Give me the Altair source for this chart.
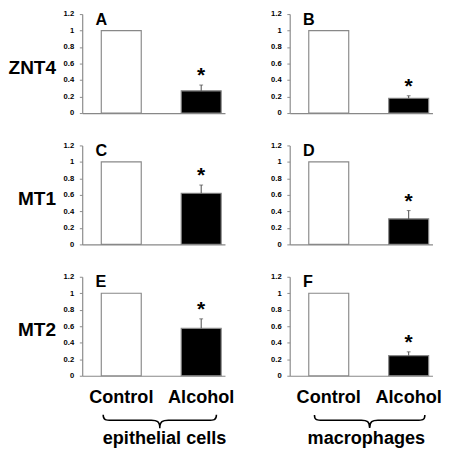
import altair as alt
import pandas as pd

groups = ["Control", "Alcohol"]
genes = ["ZNT4", "MT1", "MT2"]
cell_types = ["epithelial cells", "macrophages"]
panel_letters = [["A", "B"], ["C", "D"], ["E", "F"]]
control_means = [[1.0, 1.0], [1.0, 1.0], [1.0, 1.0]]
alcohol_means = [[0.27, 0.18], [0.62, 0.31], [0.575, 0.245]]
alcohol_sem = [[0.07, 0.03], [0.10, 0.10], [0.115, 0.045]]
y_ticks = [0, 0.2, 0.4, 0.6, 0.8, 1.0, 1.2]

FONT = "Liberation Sans"
W, H = 150, 104
GRAY = "#888888"
ERR = "#444444"
BRACE = ("M -1 -0.118 C -1 -0.02 -0.95 -0.02 -0.85 -0.02 L -0.15 -0.02 "
         "C -0.05 -0.02 0 0 0 0.118 C 0 0 0.05 -0.02 0.15 -0.02 "
         "L 0.85 -0.02 C 0.95 -0.02 1 -0.02 1 -0.118")
brace_x = [81.5, 84]
brace_w = [119, 116]
group_title_x = [86, 80]


def panel(r, c):
    df = pd.DataFrame({
        "group": groups,
        "value": [control_means[r][c], alcohol_means[r][c]],
        "err": [0.0, alcohol_sem[r][c]],
        "star": ["", "*"],
    })
    df["upper"] = df["value"] + df["err"]
    last = r == len(genes) - 1

    xa = dict(labels=last, ticks=False, domainColor=GRAY, domainWidth=1.2,
              labelFont=FONT, labelFontSize=19, labelFontWeight="bold",
              labelColor="black", labelPadding=13, labelAngle=0, grid=False)
    if last:
        xa.update(title=cell_types[c], titleFont=FONT, titleFontSize=19,
                  titleFontWeight="bold", titleColor="black",
                  titleX=group_title_x[c], titleY=71, titleAlign="center",
                  titleBaseline="alphabetic")
    else:
        xa.update(title=None)

    ya = dict(values=y_ticks, labelExpr="format(datum.value, '~g')",
              domainColor=GRAY, domainWidth=1.2, ticks=True,
              tickColor=GRAY, tickSize=3, tickWidth=1, labelFont=FONT,
              labelFontSize=8, labelFontWeight="bold", labelColor="black",
              labelPadding=6, labelOverlap=False, grid=False)
    if c == 0:
        ya.update(title=genes[r], titleAngle=0, titleAlign="right",
                  titleBaseline="middle", titleX=-28, titleY=H / 2 + 4,
                  titleFont=FONT, titleFontSize=20, titleFontWeight="bold",
                  titleColor="black")
    else:
        ya.update(title=None)

    xscale = alt.Scale(domain=groups, paddingInner=0.5, paddingOuter=0.143,
                       align=0.833)
    yscale = alt.Scale(domain=[0, 1.2], nice=False)

    def X():
        return alt.X("group:N", sort=groups, scale=xscale,
                     axis=alt.Axis(**xa))

    def Y(field):
        return alt.Y(field, type="quantitative", scale=yscale,
                     axis=alt.Axis(**ya))

    base = alt.Chart(df)
    bars = base.mark_bar(strokeWidth=1.2).encode(
        x=X(), y=Y("value"),
        fill=alt.Fill("group:N", scale=alt.Scale(domain=groups,
                                                 range=["white", "black"]),
                      legend=None),
        stroke=alt.value(GRAY),
    )
    errdf = base.transform_filter(alt.datum.err > 0)
    rule = errdf.mark_rule(color=ERR, strokeWidth=1).encode(
        x=X(), y=Y("value"), y2="upper:Q")
    cap = errdf.mark_tick(color=ERR, thickness=1, size=4).encode(
        x=X(), y=Y("upper"))
    star = errdf.mark_text(font=FONT, fontSize=22, fontWeight="bold",
                           baseline="alphabetic", dy=-3, color="black").encode(
        x=X(), y=Y("upper"), text="star:N")
    letter = alt.Chart(pd.DataFrame({"t": [panel_letters[r][c]]})).mark_text(
        font=FONT, fontSize=17, fontWeight="bold", align="left",
        baseline="alphabetic", color="black").encode(
        text="t:N", x=alt.value(14), y=alt.value(11))
    layers = [bars, rule, cap, star, letter]
    if last:
        brace = alt.Chart(pd.DataFrame({"b": [0]})).mark_point(
            shape=BRACE, filled=False, stroke="black", strokeWidth=1.6,
            size=brace_w[c] ** 2, opacity=1).encode(
            x=alt.value(brace_x[c]), y=alt.value(H + 48))
        layers.append(brace)
    return alt.layer(*layers).properties(width=W, height=H)


panels = [panel(r, c) for r in range(3) for c in range(2)]
chart = alt.concat(*panels, columns=2,
                   spacing={"row": 26, "column": 37}).properties(
    padding={"top": -9, "left": 0, "right": 0, "bottom": 0},
    autosize=alt.AutoSizeParams(type="pad")).configure_view(stroke=None)

chart.save("out.html", embed_options={"renderer": "svg", "actions": False})
